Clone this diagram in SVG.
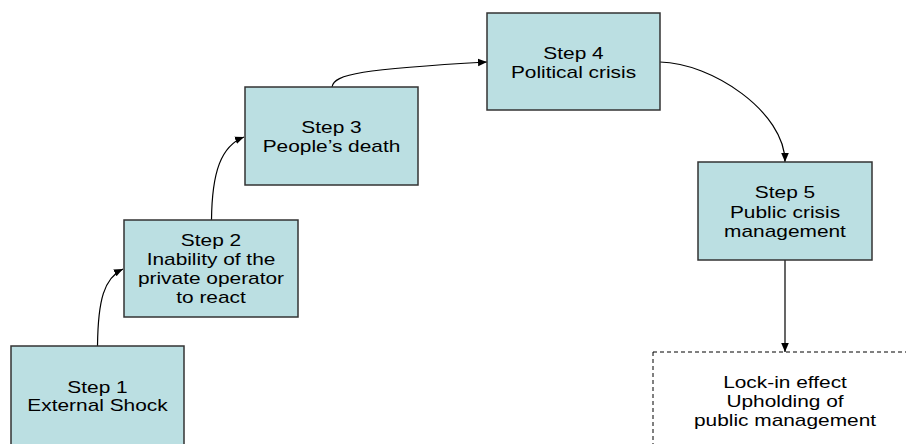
<svg xmlns="http://www.w3.org/2000/svg" width="906" height="444" viewBox="0 0 906 444">
  <defs>
    <marker id="arrow" markerUnits="userSpaceOnUse" markerWidth="10" markerHeight="10" viewBox="0 0 10 10" refX="9" refY="5" orient="auto">
      <path d="M0,1.2 L9,5 L0,8.8 Z" fill="#000"/>
    </marker>
    <style>
      .box { fill: #bbdfe2; stroke: #333; stroke-width: 1.5; }
      .dash { fill: #fff; stroke: #000; stroke-width: 1; stroke-dasharray: 4 3; }
      .lbl { font-family: "Liberation Sans", Arial, sans-serif; font-size: 17.4px; fill: #000; text-anchor: middle; }
      .link { fill: none; stroke: #000; stroke-width: 1.2; marker-end: url(#arrow); }
    </style>
  </defs>
  <rect width="906" height="444" fill="#fff"/>

  <g id="connectors">
    <path class="link" d="M97.5,346 C98,300 104,278 123,269"/>
    <path class="link" d="M211.5,220 C212,172 221,146 244,137"/>
    <path class="link" d="M332,87 C334,74 362,69 487,62"/>
    <path class="link" d="M660,62 C712,63 785,112 785,162"/>
    <path class="link" d="M785,260 L785,352"/>
  </g>

  <g id="step1">
    <rect class="box" x="11" y="346" width="173" height="110"/>
    <text class="lbl" transform="translate(97.5,0) scale(1.2,1)"><tspan x="0" y="393">Step 1</tspan><tspan x="0" y="411">External Shock</tspan></text>
  </g>

  <g id="step2">
    <rect class="box" x="124" y="220" width="174" height="97"/>
    <text class="lbl" transform="translate(211,0) scale(1.2,1)"><tspan x="0" y="246">Step 2</tspan><tspan x="0" y="265">Inability of the</tspan><tspan x="0" y="284">private operator</tspan><tspan x="0" y="303">to react</tspan></text>
  </g>

  <g id="step3">
    <rect class="box" x="245" y="87" width="173" height="98"/>
    <text class="lbl" transform="translate(331.5,0) scale(1.2,1)"><tspan x="0" y="133">Step 3</tspan><tspan x="0" y="152">People’s death</tspan></text>
  </g>

  <g id="step4">
    <rect class="box" x="487" y="13" width="173" height="97"/>
    <text class="lbl" transform="translate(573.5,0) scale(1.2,1)"><tspan x="0" y="59">Step 4</tspan><tspan x="0" y="78">Political crisis</tspan></text>
  </g>

  <g id="step5">
    <rect class="box" x="698" y="162" width="174" height="98"/>
    <text class="lbl" transform="translate(785,0) scale(1.2,1)"><tspan x="0" y="198">Step 5</tspan><tspan x="0" y="218">Public crisis</tspan><tspan x="0" y="237">management</tspan></text>
  </g>

  <g id="outcome">
    <rect class="dash" x="653" y="352" width="270" height="110"/>
    <text class="lbl" transform="translate(785,0) scale(1.2,1)"><tspan x="0" y="388">Lock-in effect</tspan><tspan x="0" y="407">Upholding of</tspan><tspan x="0" y="426">public management</tspan></text>
  </g>
</svg>
